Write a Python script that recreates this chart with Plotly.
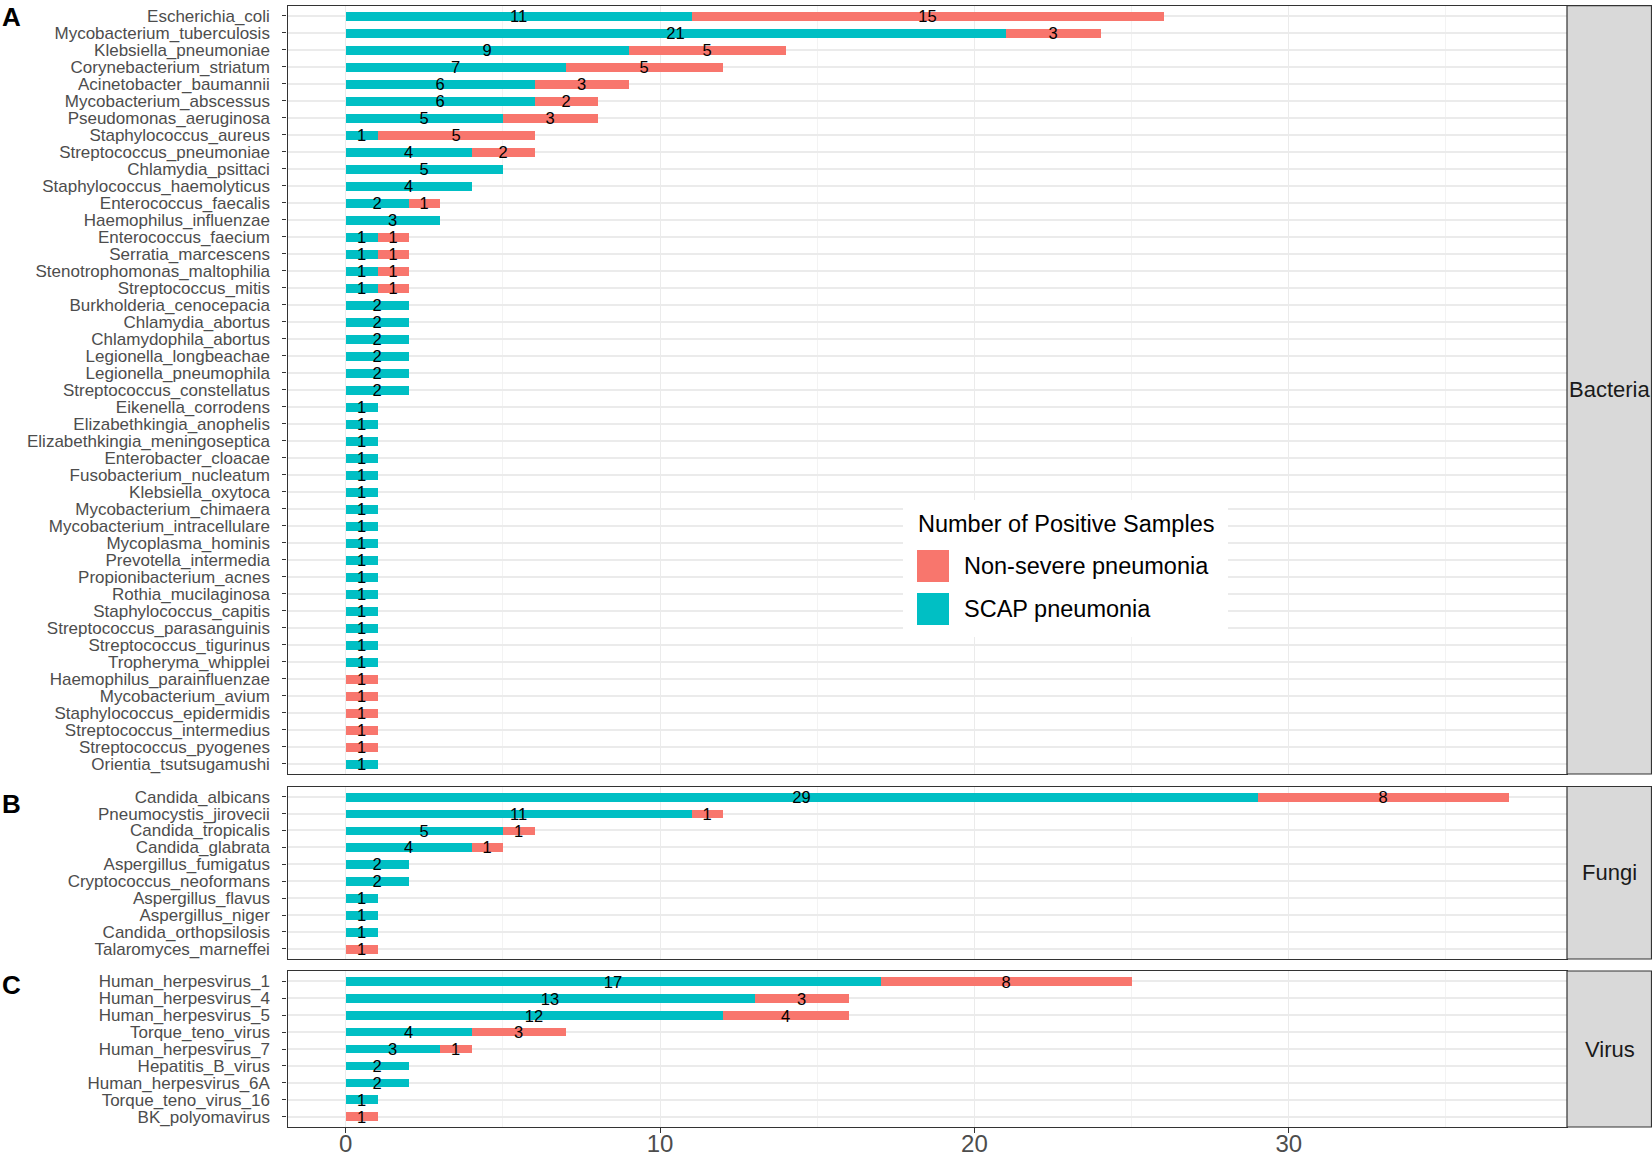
"""Stacked horizontal bars of positive samples per pathogen, faceted by kingdom."""

import plotly.graph_objects as go

W, H = 1652, 1154

# ---- data -------------------------------------------------------------------
bacteria_names = [
    "Escherichia_coli", "Mycobacterium_tuberculosis", "Klebsiella_pneumoniae",
    "Corynebacterium_striatum", "Acinetobacter_baumannii", "Mycobacterium_abscessus",
    "Pseudomonas_aeruginosa", "Staphylococcus_aureus", "Streptococcus_pneumoniae",
    "Chlamydia_psittaci", "Staphylococcus_haemolyticus", "Enterococcus_faecalis",
    "Haemophilus_influenzae", "Enterococcus_faecium", "Serratia_marcescens",
    "Stenotrophomonas_maltophilia", "Streptococcus_mitis", "Burkholderia_cenocepacia",
    "Chlamydia_abortus", "Chlamydophila_abortus", "Legionella_longbeachae",
    "Legionella_pneumophila", "Streptococcus_constellatus", "Eikenella_corrodens",
    "Elizabethkingia_anophelis", "Elizabethkingia_meningoseptica", "Enterobacter_cloacae",
    "Fusobacterium_nucleatum", "Klebsiella_oxytoca", "Mycobacterium_chimaera",
    "Mycobacterium_intracellulare", "Mycoplasma_hominis", "Prevotella_intermedia",
    "Propionibacterium_acnes", "Rothia_mucilaginosa", "Staphylococcus_capitis",
    "Streptococcus_parasanguinis", "Streptococcus_tigurinus", "Tropheryma_whipplei",
    "Haemophilus_parainfluenzae", "Mycobacterium_avium", "Staphylococcus_epidermidis",
    "Streptococcus_intermedius", "Streptococcus_pyogenes", "Orientia_tsutsugamushi",
]
bacteria_scap = [11, 21, 9, 7, 6, 6, 5, 1, 4, 5, 4, 2, 3, 1, 1, 1, 1, 2, 2, 2, 2, 2, 2,
                 1, 1, 1, 1, 1, 1, 1, 1, 1, 1, 1, 1, 1, 1, 1, 1, 0, 0, 0, 0, 0, 1]
bacteria_nonsevere = [15, 3, 5, 5, 3, 2, 3, 5, 2, 0, 0, 1, 0, 1, 1, 1, 1, 0, 0, 0, 0, 0, 0,
                      0, 0, 0, 0, 0, 0, 0, 0, 0, 0, 0, 0, 0, 0, 0, 0, 1, 1, 1, 1, 1, 0]

fungi_names = [
    "Candida_albicans", "Pneumocystis_jirovecii", "Candida_tropicalis", "Candida_glabrata",
    "Aspergillus_fumigatus", "Cryptococcus_neoformans", "Aspergillus_flavus",
    "Aspergillus_niger", "Candida_orthopsilosis", "Talaromyces_marneffei",
]
fungi_scap = [29, 11, 5, 4, 2, 2, 1, 1, 1, 0]
fungi_nonsevere = [8, 1, 1, 1, 0, 0, 0, 0, 0, 1]

virus_names = [
    "Human_herpesvirus_1", "Human_herpesvirus_4", "Human_herpesvirus_5", "Torque_teno_virus",
    "Human_herpesvirus_7", "Hepatitis_B_virus", "Human_herpesvirus_6A",
    "Torque_teno_virus_16", "BK_polyomavirus",
]
virus_scap = [17, 13, 12, 4, 3, 2, 2, 1, 0]
virus_nonsevere = [8, 3, 4, 3, 1, 0, 0, 0, 1]

x_ticks = [0, 10, 20, 30]
legend_title = "Number of Positive Samples"
series_labels = ["Non-severe pneumonia", "SCAP pneumonia"]

# ---- style ------------------------------------------------------------------
SCAP_COLOR = "#00BFC4"
NON_COLOR = "#F8766D"
FONT = "Liberation Sans, Arial, sans-serif"
BORDER = "#333333"
GRID = "#EBEBEB"


def px(x):
    return x / W


def py(y):
    return 1 - y / H


# (strip label, panel letter, names, scap, non-severe, top px, bottom px, letter offset)
panels = [
    ("Bacteria", "A", bacteria_names, bacteria_scap, bacteria_nonsevere, 5.7, 774.0, 11),
    ("Fungi", "B", fungi_names, fungi_scap, fungi_nonsevere, 786.5, 959.0, 17.5),
    ("Virus", "C", virus_names, virus_scap, virus_nonsevere, 971.0, 1127.0, 14),
]

x_left, x_right = 287.5, 1567.0
x_range = [-1.85, 38.85]

fig = go.Figure()
layout = {}
shapes = []
annotations = []

for idx, (strip, letter, names, scap, nonsevere, top, bottom, letter_dy) in enumerate(panels):
    s = "" if idx == 0 else str(idx + 1)
    last = idx == len(panels) - 1
    for values, color, label in ((scap, SCAP_COLOR, series_labels[1]), (nonsevere, NON_COLOR, series_labels[0])):
        fig.add_trace(
            go.Bar(
                x=values,
                y=names,
                orientation="h",
                width=0.52,
                marker={"color": color, "line": {"width": 0}},
                text=[str(v) if v else "" for v in values],
                textposition="inside",
                insidetextanchor="middle",
                textangle=0,
                constraintext="none",
                textfont={"family": FONT, "size": 16.5, "color": "black"},
                name=label,
                showlegend=False,
                xaxis=f"x{s}",
                yaxis=f"y{s}",
                hovertemplate="%{y}: %{x}<extra>" + label + "</extra>",
            )
        )

    layout[f"xaxis{s}"] = {
        "domain": [px(x_left), px(x_right)],
        "anchor": f"y{s}",
        "range": x_range,
        "tickvals": x_ticks,
        "showticklabels": last,
        "ticks": "outside" if last else "",
        "ticklen": 5,
        "tickwidth": 1.2,
        "tickcolor": BORDER,
        "ticklabelstandoff": -10,
        "tickfont": {"family": FONT, "size": 24, "color": "#4D4D4D"},
        "showgrid": True,
        "gridcolor": GRID,
        "gridwidth": 1.3,
        "minor": {"tickvals": [5, 15, 25, 35], "showgrid": True, "gridcolor": "#F3F3F3", "gridwidth": 0.8, "ticks": ""},
        "zeroline": False,
        "showline": True,
        "mirror": True,
        "linecolor": BORDER,
        "linewidth": 1.4,
        "automargin": False,
        "fixedrange": True,
    }
    layout[f"yaxis{s}"] = {
        "domain": [py(bottom), py(top)],
        "anchor": f"x{s}",
        "type": "category",
        "categoryorder": "array",
        "categoryarray": names,
        "range": [len(names) - 0.4, -0.6],
        "tickmode": "array",
        "tickvals": names,
        "ticktext": names,
        "ticks": "outside",
        "ticklen": 4,
        "tickwidth": 1.2,
        "tickcolor": BORDER,
        "ticklabelstandoff": 9,
        "tickfont": {"family": FONT, "size": 17, "color": "#4D4D4D"},
        "showgrid": True,
        "gridcolor": GRID,
        "gridwidth": 2,
        "zeroline": False,
        "showline": True,
        "mirror": True,
        "linecolor": BORDER,
        "linewidth": 1.4,
        "automargin": False,
        "fixedrange": True,
    }

    # facet strip on the right
    shapes.append({
        "type": "rect", "xref": "paper", "yref": "paper",
        "x0": px(x_right), "x1": px(W - 0.5), "y0": py(bottom), "y1": py(top),
        "fillcolor": "#D9D9D9", "line": {"color": BORDER, "width": 1.2}, "layer": "above",
    })
    annotations.append({
        "xref": "paper", "yref": "paper", "x": px((x_right + W) / 2), "y": py((top + bottom) / 2),
        "text": strip, "showarrow": False, "xanchor": "center", "yanchor": "middle",
        "font": {"family": FONT, "size": 22, "color": "#1A1A1A"},
    })
    # panel letter
    annotations.append({
        "xref": "paper", "yref": "paper", "x": px(0), "y": py(top + letter_dy),
        "text": f"<b>{letter}</b>", "showarrow": False, "xanchor": "left", "yanchor": "middle",
        "font": {"family": FONT, "size": 26, "color": "black"},
    })

# ---- legend drawn inside panel A ---------------------------------------------
shapes.append({
    "type": "rect", "xref": "paper", "yref": "paper",
    "x0": px(903), "x1": px(1228), "y0": py(637), "y1": py(500),
    "fillcolor": "white", "line": {"width": 0}, "layer": "above",
})
annotations.append({
    "xref": "paper", "yref": "paper", "x": px(916), "y": py(524),
    "text": legend_title, "showarrow": False, "xanchor": "left", "yanchor": "middle",
    "font": {"family": FONT, "size": 23.5, "color": "black"},
})
for k, (label, color) in enumerate(zip(series_labels, (NON_COLOR, SCAP_COLOR))):
    y_top = 550 + k * 43
    shapes.append({
        "type": "rect", "xref": "paper", "yref": "paper",
        "x0": px(917), "x1": px(949), "y0": py(y_top + 32), "y1": py(y_top),
        "fillcolor": color, "line": {"width": 0}, "layer": "above",
    })
    annotations.append({
        "xref": "paper", "yref": "paper", "x": px(962), "y": py(y_top + 16),
        "text": label, "showarrow": False, "xanchor": "left", "yanchor": "middle",
        "font": {"family": FONT, "size": 23.5, "color": "black"},
    })

fig.update_layout(
    width=W,
    height=H,
    margin={"l": 0, "r": 0, "t": 0, "b": 0},
    barmode="stack",
    bargap=0,
    paper_bgcolor="white",
    plot_bgcolor="white",
    font={"family": FONT, "color": "#4D4D4D"},
    showlegend=False,
    shapes=shapes,
    annotations=annotations,
    **layout,
)

# the page body keeps a default 8px margin; drop it so the figure fills the window
fig.write_html(
    "out.html",
    config={"displayModeBar": False},
    post_script="document.body.style.margin = '0';",
)
